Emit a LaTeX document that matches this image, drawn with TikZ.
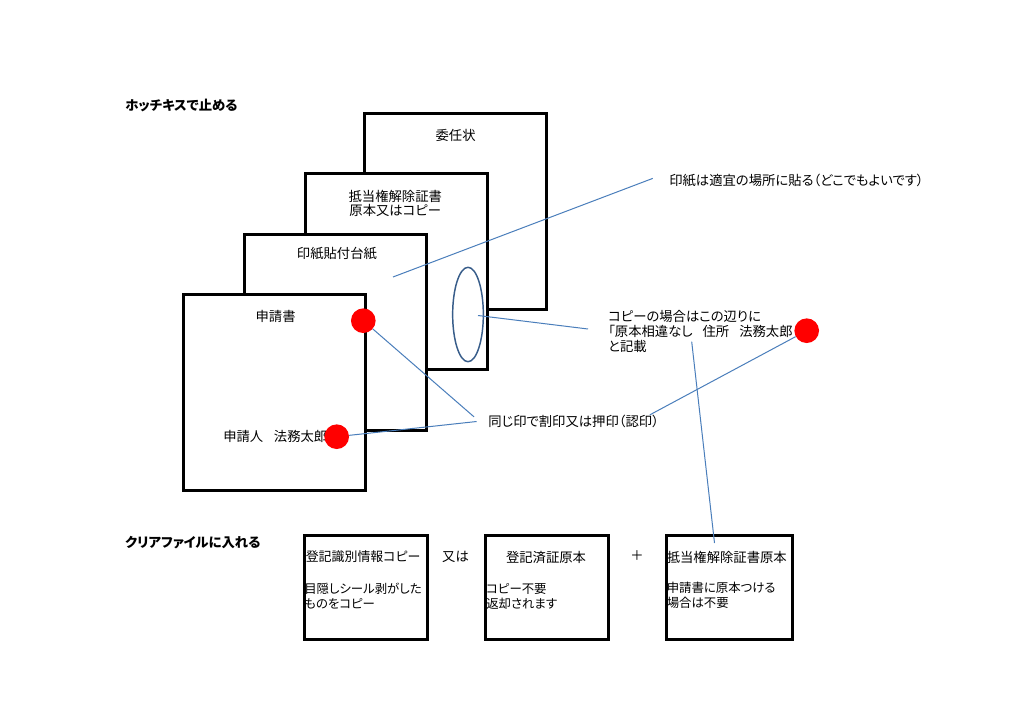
\documentclass[tikz,border=0pt]{standalone}
\usepackage{fontspec}
\newfontfamily\jpfont[RawFeature={+palt}]{Noto Sans CJK JP}
\usetikzlibrary{shapes.geometric}

\definecolor{pointerblue}{RGB}{74,126,187}
\definecolor{ovalblue}{RGB}{56,93,138}

\begin{document}
\begin{tikzpicture}[x=0.75pt,y=-0.75pt,inner sep=0pt,
		font=\jpfont\fontsize{10}{11.25}\selectfont]
		\tikzstyle{paper}=[draw=black,fill=white,line width=2.4pt,minimum width=136.5pt,minimum height=147pt,anchor=north west]
		\tikzstyle{slip}=[draw=black,fill=white,line width=2.4pt,minimum width=92.25pt,minimum height=78pt,anchor=north west]
		\tikzstyle{stamp}=[circle,fill=red,minimum size=18.5pt]
		\tikzstyle{pointer}=[draw=pointerblue,line width=0.75pt]
		\tikzstyle{heading}=[anchor=west,font=\jpfont\bfseries\fontsize{10}{12}\selectfont]
		\tikzstyle{slipnote}=[anchor=west,align=left,font=\jpfont\fontsize{9.3}{11.25}\selectfont]
		
		\useasboundingbox[fill=white] (0,0) rectangle (1024,724);
		
		% stapled set, back to front
		\node[heading]  (StapleTitle)   at (125,105)    {ホッチキスで止める};
		\node[paper]    (Ininjo)        at (363,112)    {};
		\node[paper]    (Teito)         at (304,172)    {};
		\node[ellipse,draw=ovalblue,line width=1.1pt,minimum width=23pt,minimum height=70.8pt] (CopySpot) at (468,314.5) {};
		\node[paper]    (Inshi)         at (243,233)    {};
		\node[paper]    (Shinsei)       at (182,293)    {};
		
		\node (IninjoText)  at ([yshift=-17.25pt]Ininjo.north)              {委任状};
		\node[align=center,font=\jpfont\fontsize{10}{10.5}\selectfont] (TeitoText)
			at ([xshift=-1pt,yshift=-23.25pt]Teito.north)                      {抵当権解除証書\\原本又はコピー};
		\node (InshiText)   at ([xshift=1pt,yshift=-15.75pt]Inshi.north)    {印紙貼付台紙};
		\node (ShinseiText) at ([xshift=0.75pt,yshift=-17.25pt]Shinsei.north) {申請書};
		\node[anchor=west] (Applicant) at (223,436)                          {申請人\hspace{8pt}法務太郎};
		
		% notes on the right
		\node[anchor=west] (StampNote) at (669,180) {印紙は適宜の場所に貼る（どこでもよいです）};
		\node[anchor=west,align=left] (CopyNote) at (608,331)
			{コピーの場合はこの辺りに\\「原本相違なし\hspace{7.5pt}住所\hspace{7.5pt}法務太郎\\と記載};
		\node[anchor=west] (SameStamp) at (488,421.5) {同じ印で割印又は押印（認印）};
		
		% seals
		\node[stamp] (SealEdge)   at (363.3,320.7) {};
		\node[stamp] (SealName)   at (336.7,436.7) {};
		\node[stamp] (SealCopy)   at (806.7,330.7) {};
		
		% clear file
		\node[heading]  (FileTitle)     at (125,543)    {クリアファイルに入れる};
		\node[slip]     (Shikibetsu)    at (303,534)    {};
		\node[slip]     (Sumisho)       at (484,534)    {};
		\node[slip,minimum width=94.5pt] (Genpon) at (665,534) {};
		
		\node[anchor=west,font=\jpfont\fontsize{9.7}{11}\selectfont] (ShikibetsuTitle) at (305.5,557) {登記識別情報コピー};
		\node[slipnote] (ShikibetsuNote) at (304,596.5) {目隠しシール剥がした\\ものをコピー};
		\node (OrText)   at (455.5,557) {又は};
		\node (SumishoTitle) at (546,557) {登記済証原本};
		\node[slipnote] (SumishoNote) at (486,596.5) {コピー不要\\返却されます};
		\node (PlusText) at (637,556) {＋};
		\node[anchor=west] (GenponTitle) at (666.5,557.5) {抵当権解除証書原本};
		\node[slipnote] (GenponNote) at (666.5,595.5) {申請書に原本つける\\場合は不要};
		
		\coordinate (StampSpot)  at (393,277);
		\coordinate (CopyMark)   at (478,315.5);
		\coordinate (OrigFrom)   at (691.7,341.7);
		\coordinate (OrigTo)     at (714.5,543);
		
		%\draw[pointer] (Inshi.east) -- (StampNote.west);
		\draw[pointer] (StampSpot) -- ([xshift=-12.2pt,yshift=1.2pt]StampNote.west);
		\draw[pointer] (CopyMark) -- ([xshift=-15pt,yshift=1.5pt]CopyNote.west);
		\draw[pointer] (SealEdge) -- ([xshift=-10.5pt,yshift=3.5pt]SameStamp.west);
		\draw[pointer] (SealName) -- ([xshift=-8.5pt]SameStamp.west);
		\draw[pointer] (SealCopy) -- ([xshift=-7pt,yshift=5pt]SameStamp.east);
		\draw[pointer] (OrigFrom) -- (OrigTo);
		\end{tikzpicture}
\end{document}
